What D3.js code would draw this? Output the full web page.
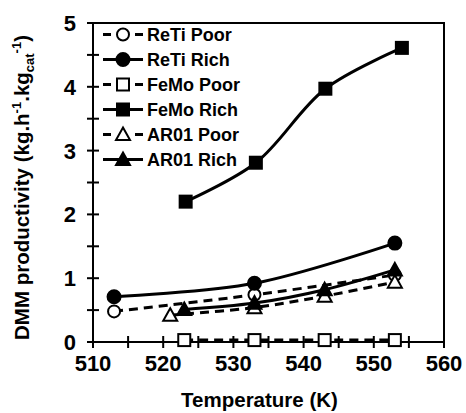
<!DOCTYPE html>
<html><head><meta charset="utf-8">
<script src="https://cdn.jsdelivr.net/npm/d3@7"></script>
<style>body{margin:0;background:#fff}svg{display:block}text{font-family:"Liberation Sans",Arial,sans-serif;font-weight:bold;fill:#000}</style>
</head><body><svg id="c" width="466" height="413"></svg>
<script>
const seriesNames = ["ReTi Poor","ReTi Rich","FeMo Poor","FeMo Rich","AR01 Poor","AR01 Rich"];
const reTiPoorX = [513,533,553];
const reTiPoorY = [0.48,0.74,1.05];
const reTiRichX = [513,533,553];
const reTiRichY = [0.71,0.92,1.55];
const feMoPoorX = [523,533,543,553];
const feMoPoorY = [0.03,0.03,0.03,0.03];
const feMoRichX = [523.2,533.2,543.1,554];
const feMoRichY = [2.2,2.81,3.97,4.61];
const ar01PoorX = [521,533,543,553];
const ar01PoorY = [0.42,0.54,0.72,0.94];
const ar01RichX = [523,533,543,553];
const ar01RichY = [0.51,0.61,0.82,1.13];
const xTicks = [510,520,530,540,550,560];
const yTicks = [0,1,2,3,4,5];

const series = [
 {name:seriesNames[0], xs:reTiPoorX, ys:reTiPoorY, dash:true, shape:"circle", fill:false},
 {name:seriesNames[1], xs:reTiRichX, ys:reTiRichY, dash:false, shape:"circle", fill:true},
 {name:seriesNames[2], xs:feMoPoorX, ys:feMoPoorY, dash:true, shape:"square", fill:false},
 {name:seriesNames[3], xs:feMoRichX, ys:feMoRichY, dash:false, shape:"square", fill:true},
 {name:seriesNames[4], xs:ar01PoorX, ys:ar01PoorY, dash:true, shape:"triangle", fill:false},
 {name:seriesNames[5], xs:ar01RichX, ys:ar01RichY, dash:false, shape:"triangle", fill:true}
];

const L=93,R=444,T=23,B=342;
const svg=d3.select("#c");
const x=d3.scaleLinear().domain([510,560]).range([L,R]);
const y=d3.scaleLinear().domain([0,5]).range([B,T]);

// frame
svg.append("path").attr("d",`M${L},${T}H${R}V${B}`).attr("fill","none").attr("stroke","#000").attr("stroke-width",2);

// axes
const gx=svg.append("g").attr("transform",`translate(0,${B})`);
gx.append("line").attr("x1",L).attr("x2",R).attr("stroke","#000").attr("stroke-width",2);
d3.range(510,561,5).forEach(v=>{
  gx.append("line").attr("x1",x(v)).attr("x2",x(v)).attr("y1",-6).attr("y2",6).attr("stroke","#000").attr("stroke-width",2);
});
gx.selectAll("text.t").data(xTicks).join("text").attr("class","t").attr("x",d=>x(d)).attr("y",29)
  .attr("text-anchor","middle").attr("font-size",22).text(d=>d);

const gy=svg.append("g").attr("transform",`translate(${L},0)`);
gy.append("line").attr("y1",T).attr("y2",B).attr("stroke","#000").attr("stroke-width",2);
d3.range(0,5.01,0.5).forEach(v=>{
  gy.append("line").attr("y1",y(v)).attr("y2",y(v)).attr("x1",-6).attr("x2",6).attr("stroke","#000").attr("stroke-width",2);
});
gy.selectAll("text.t").data(yTicks).join("text").attr("class","t").attr("x",-17).attr("y",d=>y(d)+8)
  .attr("text-anchor","end").attr("font-size",22).text(d=>d);

// axis titles
svg.append("text").attr("x",(L+R)/2-9).attr("y",407).attr("text-anchor","middle").attr("font-size",20.5).text("Temperature (K)");
const yt=svg.append("text").attr("transform",`translate(29,${(T+B)/2+5}) rotate(-90)`).attr("text-anchor","middle").attr("font-size",20.5);
yt.append("tspan").text("DMM productivity (kg.h");
yt.append("tspan").attr("font-size",13).attr("dy",-8).text("-1");
yt.append("tspan").attr("dy",8).text(".kg");
yt.append("tspan").attr("font-size",13).attr("dy",5).text("cat");
yt.append("tspan").attr("font-size",13).attr("dy",-13).text("-1");
yt.append("tspan").attr("dy",8).text(")");

function marker(g,s,cx,cy){
  const fill=s.fill?"#000":"#fff";
  if(s.shape==="circle"){
    g.append("circle").attr("cx",cx).attr("cy",cy).attr("r",s.fill?6.5:6).attr("fill",fill).attr("stroke","#000").attr("stroke-width",2);
  } else if(s.shape==="square"){
    const h=6;
    g.append("rect").attr("x",cx-h).attr("y",cy-h).attr("width",2*h).attr("height",2*h).attr("fill",fill).attr("stroke","#000").attr("stroke-width",2);
  } else {
    const h=7;
    g.append("path").attr("d",`M${cx},${cy-h}L${cx+h},${cy+h*0.8}L${cx-h},${cy+h*0.8}Z`).attr("fill",fill).attr("stroke","#000").attr("stroke-width",2);
  }
}

const line=d3.line().x(d=>x(d[0])).y(d=>y(d[1])).curve(d3.curveCatmullRom.alpha(0.5));
const gl=svg.append("g");
series.forEach(s=>{
  const pts=s.xs.map((v,i)=>[v,s.ys[i]]);
  gl.append("path").datum(pts).attr("d",line).attr("fill","none").attr("stroke","#000")
    .attr("stroke-width",3).attr("stroke-dasharray",s.dash?"9,6":null);
});
const gm=svg.append("g");
series.forEach(s=>{
  s.xs.forEach((v,i)=>marker(gm,s,x(v),y(s.ys[i])));
});

// legend
const lg=svg.append("g");
series.forEach((s,i)=>{
  const ly=34.5+i*25;
  if(s.dash){
    lg.append("line").attr("x1",103).attr("x2",111).attr("y1",ly).attr("y2",ly).attr("stroke","#000").attr("stroke-width",3);
    lg.append("line").attr("x1",135).attr("x2",143).attr("y1",ly).attr("y2",ly).attr("stroke","#000").attr("stroke-width",3);
  } else {
    lg.append("line").attr("x1",103).attr("x2",143).attr("y1",ly).attr("y2",ly).attr("stroke","#000").attr("stroke-width",3);
  }
  marker(lg,s,123,ly);
  lg.append("text").attr("x",147).attr("y",ly+6.5).attr("font-size",18).text(s.name);
});
</script></body></html>
